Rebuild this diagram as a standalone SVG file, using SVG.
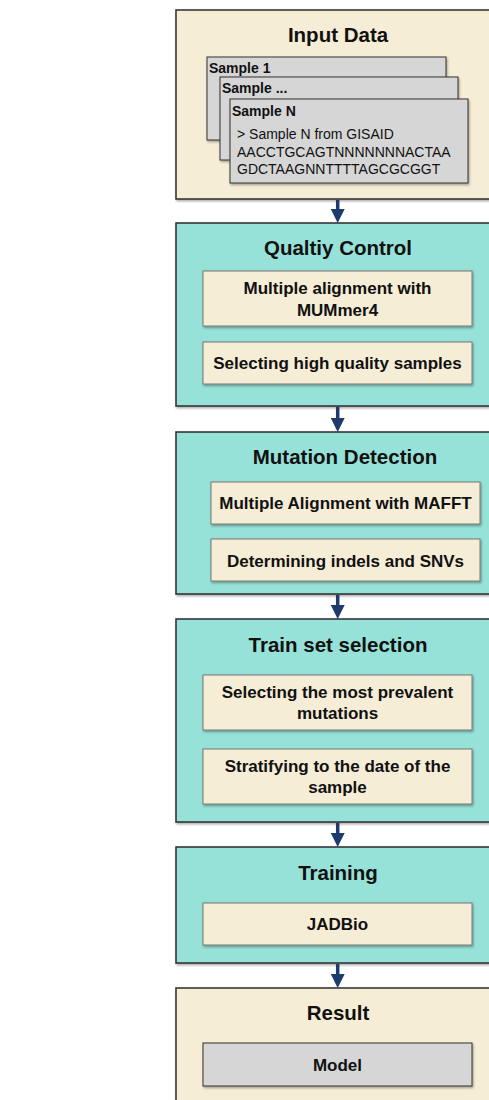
<svg xmlns="http://www.w3.org/2000/svg" width="489" height="1100" viewBox="0 0 489 1100">
<style>
text{font-family:"Liberation Sans",Arial,sans-serif;fill:#111}
.title{font-size:20.5px;font-weight:bold;text-anchor:middle}
.sub{font-size:17px;font-weight:bold;text-anchor:middle}
.lab{font-size:14px;font-weight:bold}
.seq{font-size:14px}
.teal{fill:#96e2d8;stroke:#2b2b2b;stroke-width:1.5}
.cream{fill:#f5edd5;stroke:#2b2b2b;stroke-width:1.5}
.box{fill:#f5edd5;stroke:#777;stroke-width:1}
.grey{fill:#d6d6d6;stroke:#333;stroke-width:1}
.conn line{stroke:#1f3b6e;stroke-width:3.5}
</style>
<defs>
<filter id="sh" x="-5%" y="-5%" width="115%" height="125%"><feDropShadow dx="1" dy="1.5" stdDeviation="1" flood-color="#000" flood-opacity="0.35"/></filter>
<marker id="ah" markerWidth="4" markerHeight="4" refX="2" refY="2" orient="auto" markerUnits="strokeWidth"><path d="M0,0 L4,2 L0,4 Z" fill="#1f3b6e"/></marker>
</defs>
<g id="input">
<rect class="cream" x="176" y="10" width="340" height="189" filter="url(#sh)"/>
<text class="title" x="338" y="42">Input Data</text>
<rect class="grey" x="207" y="57" width="239" height="83" filter="url(#sh)"/>
<text class="lab" x="209" y="73">Sample 1</text>
<rect class="grey" x="220" y="77" width="238" height="83" filter="url(#sh)"/>
<text class="lab" x="222" y="93">Sample ...</text>
<rect class="grey" x="230" y="99" width="238" height="84" filter="url(#sh)"/>
<text class="lab" x="232" y="116">Sample N</text>
<text class="seq" x="237" y="139">&gt; Sample N from GISAID</text>
<text class="seq" x="237" y="157">AACCTGCAGTNNNNNNNACTAA</text>
<text class="seq" x="237" y="174">GDCTAAGNNTTTTAGCGCGGT</text>
</g>
<g id="qc">
<rect class="teal" x="176" y="223" width="340" height="183" filter="url(#sh)"/>
<text class="title" x="338" y="255">Qualtiy Control</text>
<rect class="box" x="203" y="271" width="269" height="55" filter="url(#sh)"/>
<text class="sub" x="337.5" y="294">Multiple alignment with</text>
<text class="sub" x="337.5" y="316">MUMmer4</text>
<rect class="box" x="203" y="342" width="269" height="42" filter="url(#sh)"/>
<text class="sub" x="337.5" y="369">Selecting high quality samples</text>
</g>
<g id="mutation">
<rect class="teal" x="176" y="432" width="340" height="162" filter="url(#sh)"/>
<text class="title" x="345" y="464">Mutation Detection</text>
<rect class="box" x="211" y="482" width="269" height="42" filter="url(#sh)"/>
<text class="sub" x="345.5" y="509">Multiple Alignment with MAFFT</text>
<rect class="box" x="211" y="539" width="269" height="42" filter="url(#sh)"/>
<text class="sub" x="345.5" y="567">Determining indels and SNVs</text>
</g>
<g id="trainset">
<rect class="teal" x="176" y="619" width="340" height="203" filter="url(#sh)"/>
<text class="title" x="338" y="652">Train set selection</text>
<rect class="box" x="203" y="675" width="269" height="55" filter="url(#sh)"/>
<text class="sub" x="337.5" y="698">Selecting the most prevalent</text>
<text class="sub" x="337.5" y="719">mutations</text>
<rect class="box" x="203" y="749" width="269" height="55" filter="url(#sh)"/>
<text class="sub" x="337.5" y="772">Stratifying to the date of the</text>
<text class="sub" x="337.5" y="793">sample</text>
</g>
<g id="training">
<rect class="teal" x="176" y="847" width="340" height="116" filter="url(#sh)"/>
<text class="title" x="338" y="880">Training</text>
<rect class="box" x="203" y="903" width="269" height="42" filter="url(#sh)"/>
<text class="sub" x="337.5" y="930">JADBio</text>
</g>
<g id="result">
<rect class="cream" x="176" y="988" width="340" height="130" filter="url(#sh)"/>
<text class="title" x="338" y="1020">Result</text>
<rect class="grey" x="203" y="1043" width="269" height="43" filter="url(#sh)"/>
<text class="sub" x="337.5" y="1071">Model</text>
</g>
<g class="conn" id="connectors">
<line x1="337.7" y1="200" x2="337.7" y2="216" marker-end="url(#ah)"/>
<line x1="337.7" y1="407" x2="337.7" y2="425" marker-end="url(#ah)"/>
<line x1="337.7" y1="595" x2="337.7" y2="612" marker-end="url(#ah)"/>
<line x1="337.7" y1="823" x2="337.7" y2="840" marker-end="url(#ah)"/>
<line x1="337.7" y1="964" x2="337.7" y2="981" marker-end="url(#ah)"/>
</g>
</svg>
